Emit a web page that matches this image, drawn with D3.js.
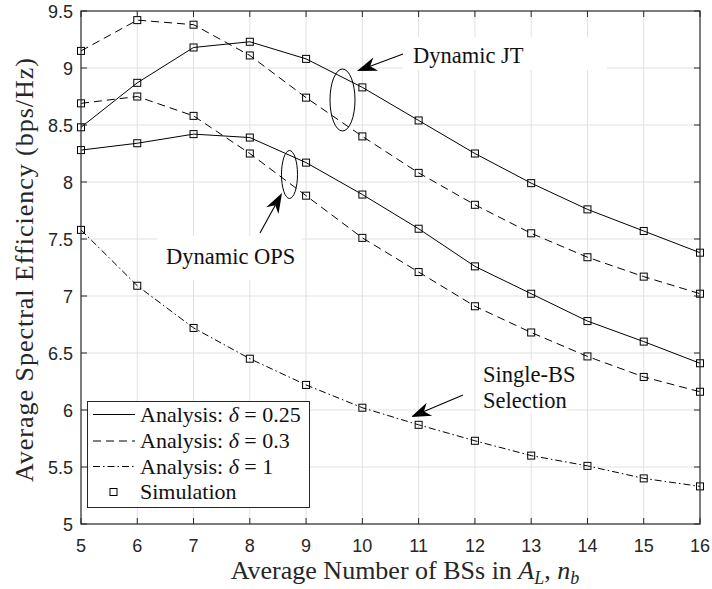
<!DOCTYPE html>
<html>
<head>
<meta charset="utf-8">
<script src="https://cdn.jsdelivr.net/npm/d3@7"></script>
<style>
  html, body { margin: 0; padding: 0; background: #fff; }
  svg { display: block; }
</style>
</head>
<body>
<svg id="chart" width="712" height="589"></svg>
<script>
// ---------------- data ----------------
const nb = [5, 6, 7, 8, 9, 10, 11, 12, 13, 14, 15, 16];
const jtDelta025  = [8.48, 8.87, 9.18, 9.23, 9.08, 8.83, 8.54, 8.25, 7.99, 7.76, 7.57, 7.38];
const jtDelta03   = [9.15, 9.42, 9.38, 9.11, 8.74, 8.40, 8.08, 7.80, 7.55, 7.34, 7.17, 7.02];
const opsDelta025 = [8.28, 8.34, 8.42, 8.39, 8.17, 7.89, 7.59, 7.26, 7.02, 6.78, 6.60, 6.41];
const opsDelta03  = [8.69, 8.75, 8.58, 8.25, 7.88, 7.51, 7.21, 6.91, 6.68, 6.47, 6.29, 6.16];
const singleDelta1 = [7.58, 7.09, 6.72, 6.45, 6.22, 6.02, 5.87, 5.73, 5.60, 5.51, 5.40, 5.33];
const xTicks = [5, 6, 7, 8, 9, 10, 11, 12, 13, 14, 15, 16];
const yTicks = [5, 5.5, 6, 6.5, 7, 7.5, 8, 8.5, 9, 9.5];
const legendLabels = ["0.25", "0.3", "1"];

// ---------------- layout ----------------
const svg = d3.select("#chart");
const L = 81, R = 700, T = 11, B = 524;
const x = d3.scaleLinear().domain([5, 16]).range([L, R]);
const y = d3.scaleLinear().domain([5, 9.5]).range([B, T]);
const axisColor = "#262626";
const gridColor = "#e1e1e1";
const serif = "'Liberation Serif', 'DejaVu Serif', serif";
const sans = "'Liberation Sans', Arial, sans-serif";
const dashStyles = { solid: null, dashed: "8,5", dashdot: "7,3,1.5,3" };

// grid
const grid = svg.append("g");
grid.selectAll(".vg").data(xTicks.slice(1, -1)).join("line")
  .attr("x1", d => x(d)).attr("x2", d => x(d)).attr("y1", T).attr("y2", B)
  .attr("stroke", gridColor).attr("stroke-width", 1);
grid.selectAll(".hg").data(yTicks.slice(1, -1)).join("line")
  .attr("x1", L).attr("x2", R).attr("y1", d => y(d)).attr("y2", d => y(d))
  .attr("stroke", gridColor).attr("stroke-width", 1);

// annotation white boxes (they hide grid lines)
const boxes = [
  {x0: 403, y0: 37, x1: 607, y1: 70},
  {x0: 157, y0: 236, x1: 302, y1: 280},
  {x0: 480, y0: 360, x1: 567, y1: 413}
];
svg.append("g").selectAll("rect").data(boxes).join("rect")
  .attr("x", d => d.x0).attr("y", d => d.y0)
  .attr("width", d => d.x1 - d.x0).attr("height", d => d.y1 - d.y0)
  .attr("fill", "#fff");

// series
const series = [
  {vals: jtDelta025, dash: dashStyles.solid},
  {vals: jtDelta03, dash: dashStyles.dashed},
  {vals: opsDelta025, dash: dashStyles.solid},
  {vals: opsDelta03, dash: dashStyles.dashed},
  {vals: singleDelta1, dash: dashStyles.dashdot}
];
const line = d3.line().x((d, i) => x(nb[i])).y(d => y(d));
const gs = svg.append("g");
series.forEach(s => {
  gs.append("path").attr("d", line(s.vals))
    .attr("fill", "none").attr("stroke", "#000").attr("stroke-width", 1)
    .attr("stroke-dasharray", s.dash);
  gs.selectAll(null).data(s.vals).join("rect")
    .attr("x", (d, i) => x(nb[i]) - 3.5).attr("y", d => y(d) - 3.5)
    .attr("width", 7).attr("height", 7)
    .attr("fill", "none").attr("stroke", "#000").attr("stroke-width", 1);
});

// axes box with inward ticks
const ax = svg.append("g");
ax.append("rect").attr("x", L).attr("y", T).attr("width", R - L).attr("height", B - T)
  .attr("fill", "none").attr("stroke", axisColor).attr("stroke-width", 1.2);
const tl = 6;
ax.selectAll(".xtb").data(xTicks).join("line")
  .attr("x1", d => x(d)).attr("x2", d => x(d)).attr("y1", B).attr("y2", B - tl)
  .attr("stroke", axisColor);
ax.selectAll(".xtt").data(xTicks).join("line")
  .attr("x1", d => x(d)).attr("x2", d => x(d)).attr("y1", T).attr("y2", T + tl)
  .attr("stroke", axisColor);
ax.selectAll(".ytl").data(yTicks).join("line")
  .attr("x1", L).attr("x2", L + tl).attr("y1", d => y(d)).attr("y2", d => y(d))
  .attr("stroke", axisColor);
ax.selectAll(".ytr").data(yTicks).join("line")
  .attr("x1", R).attr("x2", R - tl).attr("y1", d => y(d)).attr("y2", d => y(d))
  .attr("stroke", axisColor);
ax.selectAll(".xl").data(xTicks).join("text")
  .attr("x", d => x(d)).attr("y", 552)
  .attr("text-anchor", "middle").attr("font-family", sans).attr("font-size", 18)
  .attr("fill", axisColor).text(d => d);
ax.selectAll(".yl").data(yTicks).join("text")
  .attr("x", 73).attr("y", d => y(d) + 6.5)
  .attr("text-anchor", "end").attr("font-family", sans).attr("font-size", 18)
  .attr("fill", axisColor).text(d => d);

// axis titles
svg.append("text")
  .attr("transform", "translate(33,270) rotate(-90)")
  .attr("text-anchor", "middle").attr("font-family", serif).attr("font-size", 26)
  .attr("textLength", 424).attr("lengthAdjust", "spacing")
  .attr("fill", axisColor).text("Average Spectral Efficiency (bps/Hz)");
const xt = svg.append("text").attr("x", 405).attr("y", 579)
  .attr("text-anchor", "middle").attr("font-family", serif).attr("font-size", 26)
  .attr("fill", axisColor);
xt.append("tspan").text("Average Number of BSs in ");
xt.append("tspan").attr("font-style", "italic").text("A");
xt.append("tspan").attr("font-style", "italic").attr("font-size", 18).attr("dy", 5).text("L");
xt.append("tspan").attr("dy", -5).text(", ");
xt.append("tspan").attr("font-style", "italic").text("n");
xt.append("tspan").attr("font-style", "italic").attr("font-size", 18).attr("dy", 5).text("b");

// annotations
const ann = svg.append("g").attr("font-family", serif).attr("font-size", 22.5).attr("fill", "#111");
ann.append("text").attr("x", 413).attr("y", 63).text("Dynamic JT");
ann.append("text").attr("x", 166).attr("y", 264).text("Dynamic OPS");
ann.append("text").attr("x", 483).attr("y", 382).text("Single-BS");
ann.append("text").attr("x", 483).attr("y", 408).text("Selection");

// ellipses
svg.append("ellipse").attr("cx", 342.5).attr("cy", 100).attr("rx", 12.5).attr("ry", 31)
  .attr("fill", "none").attr("stroke", "#000").attr("stroke-width", 1);
svg.append("ellipse").attr("cx", 289.5).attr("cy", 174.5).attr("rx", 8).attr("ry", 24)
  .attr("fill", "none").attr("stroke", "#000").attr("stroke-width", 1);

// arrows
const arrows = [
  {x0: 403, y0: 54, x1: 357, y1: 71},
  {x0: 260, y0: 233, x1: 282, y1: 193},
  {x0: 463, y0: 395, x1: 411, y1: 417}
];
arrows.forEach(a => {
  const ang = Math.atan2(a.y1 - a.y0, a.x1 - a.x0);
  const len = 20, hw = 7, notch = 6;
  const ux = Math.cos(ang), uy = Math.sin(ang);
  const px = -uy, py = ux;
  const bx = a.x1 - ux * len, by = a.y1 - uy * len;
  const nx = a.x1 - ux * (len - notch), ny = a.y1 - uy * (len - notch);
  svg.append("line").attr("x1", a.x0).attr("y1", a.y0).attr("x2", nx).attr("y2", ny)
    .attr("stroke", "#000").attr("stroke-width", 1.1);
  svg.append("path")
    .attr("d", `M${a.x1},${a.y1} L${bx + px * hw},${by + py * hw} L${nx},${ny} L${bx - px * hw},${by - py * hw} Z`)
    .attr("fill", "#000");
});

// legend
const lg = svg.append("g");
lg.append("rect").attr("x", 87.5).attr("y", 401.5).attr("width", 222).attr("height", 106)
  .attr("fill", "#fff").attr("stroke", axisColor).attr("stroke-width", 1);
const rows = [414.5, 441, 466.5, 492];
const lstyles = [dashStyles.solid, dashStyles.dashed, dashStyles.dashdot];
legendLabels.forEach((lab, i) => {
  lg.append("line").attr("x1", 93).attr("x2", 135).attr("y1", rows[i]).attr("y2", rows[i])
    .attr("stroke", "#000").attr("stroke-width", 1).attr("stroke-dasharray", lstyles[i]);
  const t = lg.append("text").attr("x", 140).attr("y", rows[i] + 7)
    .attr("font-family", serif).attr("font-size", 22).attr("fill", "#111");
  t.append("tspan").text("Analysis: ");
  t.append("tspan").attr("font-style", "italic").text("δ");
  t.append("tspan").text(" = " + lab);
});
lg.append("rect").attr("x", 110).attr("y", rows[3] - 3.5).attr("width", 7).attr("height", 7)
  .attr("fill", "none").attr("stroke", "#000");
lg.append("text").attr("x", 140).attr("y", rows[3] + 7)
  .attr("font-family", serif).attr("font-size", 22).attr("fill", "#111").text("Simulation");
</script>
</body>
</html>
